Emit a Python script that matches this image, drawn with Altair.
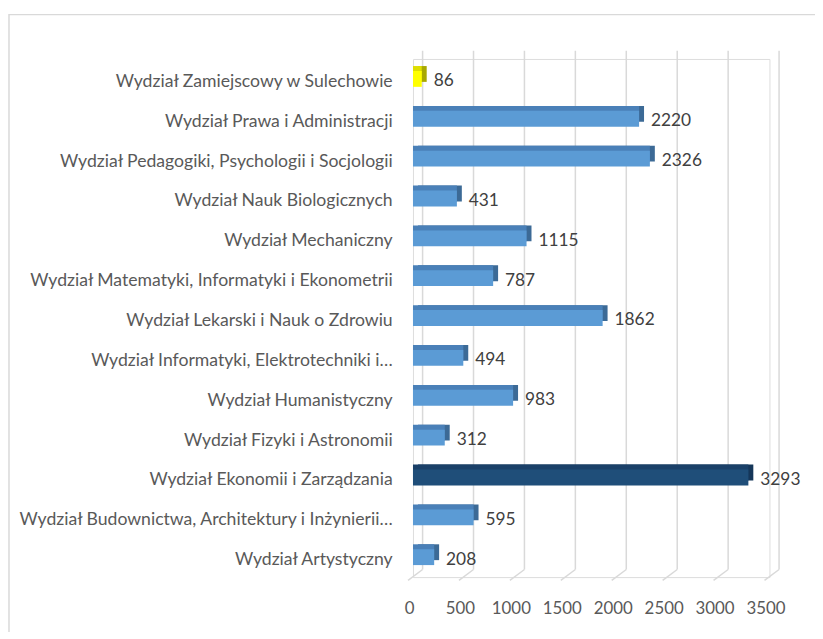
import altair as alt
import pandas as pd

categories = [
    "Wydział Zamiejscowy w Sulechowie",
    "Wydział Prawa i Administracji",
    "Wydział Pedagogiki, Psychologii i Socjologii",
    "Wydział Nauk Biologicznych",
    "Wydział Mechaniczny",
    "Wydział Matematyki, Informatyki i Ekonometrii",
    "Wydział Lekarski i Nauk o Zdrowiu",
    "Wydział Informatyki, Elektrotechniki i…",
    "Wydział Humanistyczny",
    "Wydział Fizyki i Astronomii",
    "Wydział Ekonomii i Zarządzania",
    "Wydział Budownictwa, Architektury i Inżynierii…",
    "Wydział Artystyczny",
]
values = [86, 2220, 2326, 431, 1115, 787, 1862, 494, 983, 312, 3293, 595, 208]
highlight_category = "Wydział Ekonomii i Zarządzania"
special_category = "Wydział Zamiejscowy w Sulechowie"
x_ticks = [0, 500, 1000, 1500, 2000, 2500, 3000, 3500]

groups = ["highlight" if c == highlight_category else "special" if c == special_category else "normal"
          for c in categories]
df = pd.DataFrame({"cat": categories, "val": values, "grp": groups})
ticks_df = pd.DataFrame({"t": x_ticks})

FONT = "Lato"
W, H = 360, 523.25
grp_domain = ["normal", "highlight", "special"]
front_colors = ["#5b9bd5", "#1f4e79", "#ffff00"]
top_colors = ["#4a80b8", "#1a4068", "#dede00"]
side_colors = ["#3c6a96", "#153659", "#a8a800"]

xscale = alt.Scale(domain=[0, 3500], nice=False, zero=True)
xaxis = alt.Axis(values=x_ticks, format="d", domain=False, ticks=False, grid=False, title=None,
                 labelFont=FONT, labelFontSize=17, labelColor="#595959",
                 labelPadding=24, labelOffset=-4, labelOverlap=False, labelFlush=False)
yenc = alt.Y("cat:N", sort=categories, title=None,
             scale=alt.Scale(paddingInner=0.6025, paddingOuter=0.30125),
             axis=alt.Axis(domain=False, ticks=False, grid=False, labelFont=FONT, labelFontSize=17.8,
                           labelColor="#595959", labelPadding=21, labelLimit=420, labelOffset=3))

def xenc(field):
    return alt.X(field, scale=xscale, axis=xaxis)

border = alt.Chart(pd.DataFrame({"a": [0]})).mark_rect(
    fill=None, stroke="#d9d9d9", strokeWidth=1.5, clip=False
).encode(x=alt.value(-408), x2=alt.value(W + 200), y=alt.value(-44.8), y2=alt.value(H + 200))

grid_v = alt.Chart(ticks_df).mark_rule(color="#d9d9d9", strokeWidth=1.5, xOffset=9.7).encode(
    x=xenc("t:Q"),
    y=alt.value(-8.4), y2=alt.value(515.6),
)
grid_s = alt.Chart(ticks_df).mark_rule(color="#d9d9d9", strokeWidth=1.5,
                                       xOffset=9.7, x2Offset=-5).encode(
    x=xenc("t:Q"), x2="t:Q",
    y=alt.value(515.6), y2=alt.value(526.6),
)

def bar_layer(colors, dx, dy):
    return alt.Chart(df).mark_bar(size=16, xOffset=dx, x2Offset=dx, yOffset=dy, y2Offset=dy).encode(
        x=xenc("val:Q"),
        y=yenc,
        color=alt.Color("grp:N", scale=alt.Scale(domain=grp_domain, range=colors), legend=None),
    )

side = bar_layer(side_colors, 5, -5)
top = bar_layer(top_colors, 0, -5)
front = bar_layer(front_colors, 0, 0)

labels = alt.Chart(df).mark_text(align="left", baseline="middle", dx=12, dy=2.5,
                                 font=FONT, fontSize=17.5, color="#404040").encode(
    x=xenc("val:Q"), y=yenc, text="val:Q")

chart = alt.layer(border, grid_v, grid_s, side, top, front, labels).resolve_scale(
    color="independent"
).properties(
    width=W, height=H,
    padding={"left": 409, "top": 48.4, "right": 46, "bottom": 52},
    autosize=alt.AutoSizeParams(type="none"),
).configure_view(stroke=None).configure(background="white")

chart.save("out.html", embed_options={"renderer": "svg", "actions": False})
